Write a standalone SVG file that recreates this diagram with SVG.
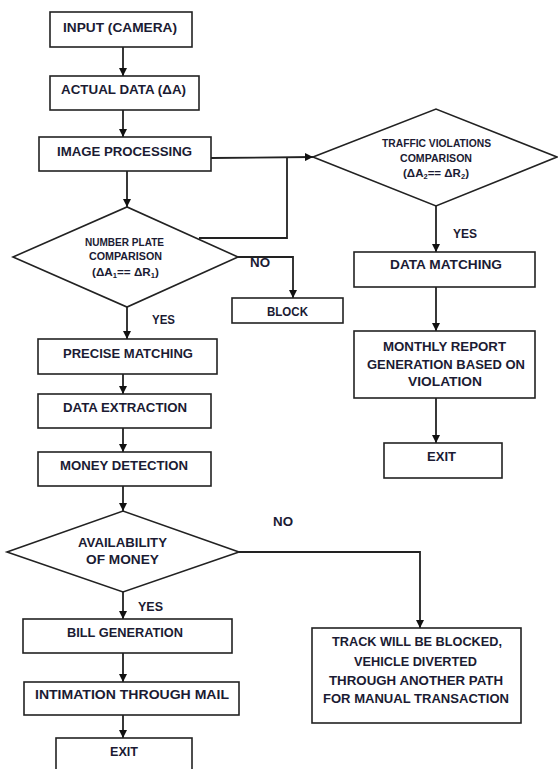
<svg xmlns="http://www.w3.org/2000/svg" width="558" height="769" viewBox="0 0 558 769">
<defs>
<style>
.box{fill:#fff;stroke:#222;stroke-width:1.6}
.t{font-family:"Liberation Sans",Arial,sans-serif;font-weight:bold;font-size:12.5px;fill:#1b1b33;text-anchor:middle}
.s{font-family:"Liberation Sans",Arial,sans-serif;font-weight:bold;font-size:10px;fill:#1b1b33;text-anchor:middle}
.l{font-family:"Liberation Sans",Arial,sans-serif;font-weight:bold;font-size:12.5px;fill:#1b1b33}
.c{fill:none;stroke:#222;stroke-width:1.8}
</style>
<marker id="ah" viewBox="0 0 8 8" refX="8" refY="4" markerWidth="8" markerHeight="8" markerUnits="userSpaceOnUse" orient="auto">
<path d="M0,0 L8,4 L0,8 z" fill="#111"/>
</marker>
</defs>
<rect width="558" height="769" fill="#fff"/>

<g id="connectors">
<path class="c" d="M123,47 V76" marker-end="url(#ah)"/>
<path class="c" d="M123,110 V137" marker-end="url(#ah)"/>
<path class="c" d="M127,171 V207" marker-end="url(#ah)"/>
<path class="c" d="M211,158 L313,157" marker-end="url(#ah)"/>
<path class="c" d="M287,158 V238 H199"/>
<path class="c" d="M238,257 H293 V298" marker-end="url(#ah)"/>
<path class="c" d="M127,307 V339" marker-end="url(#ah)"/>
<path class="c" d="M436,206 V252" marker-end="url(#ah)"/>
<path class="c" d="M436,287 V331" marker-end="url(#ah)"/>
<path class="c" d="M436,398 V443" marker-end="url(#ah)"/>
<path class="c" d="M123,374 V394" marker-end="url(#ah)"/>
<path class="c" d="M123,428 V452" marker-end="url(#ah)"/>
<path class="c" d="M123,486 V511" marker-end="url(#ah)"/>
<path class="c" d="M239,552 H420 V628" marker-end="url(#ah)"/>
<path class="c" d="M123,592 V619" marker-end="url(#ah)"/>
<path class="c" d="M123,653 V682" marker-end="url(#ah)"/>
<path class="c" d="M123,715 V738" marker-end="url(#ah)"/>
<text class="l" x="453" y="238" textLength="24" lengthAdjust="spacingAndGlyphs">YES</text>
<text class="l" x="250" y="267" textLength="20" lengthAdjust="spacingAndGlyphs">NO</text>
<text class="l" x="152" y="324" textLength="23" lengthAdjust="spacingAndGlyphs">YES</text>
<text class="l" x="273" y="526" textLength="20" lengthAdjust="spacingAndGlyphs">NO</text>
<text class="l" x="138" y="611" textLength="25" lengthAdjust="spacingAndGlyphs">YES</text>
</g>

<g id="input">
<rect class="box" x="50" y="12" width="142" height="35"/>
<text class="t" x="120" y="32" textLength="114" lengthAdjust="spacingAndGlyphs">INPUT (CAMERA)</text>
</g>
<g id="actual-data">
<rect class="box" x="50" y="76" width="149" height="34"/>
<text class="t" x="123.5" y="94" textLength="125" lengthAdjust="spacingAndGlyphs">ACTUAL DATA (ΔA)</text>
</g>
<g id="image-processing">
<rect class="box" x="39" y="137" width="172" height="34"/>
<text class="t" x="124.5" y="156" textLength="135" lengthAdjust="spacingAndGlyphs">IMAGE PROCESSING</text>
</g>
<g id="traffic-comparison">
<polygon class="box" points="313,157 436,109 557,157 436,206"/>
<text class="s" x="436.5" y="147" textLength="109" lengthAdjust="spacingAndGlyphs">TRAFFIC VIOLATIONS</text>
<text class="s" x="436" y="162" textLength="72" lengthAdjust="spacingAndGlyphs">COMPARISON</text>
<text class="s" x="436" y="177" textLength="66" lengthAdjust="spacingAndGlyphs">(ΔA<tspan font-size="6.5" dy="1.5">2</tspan><tspan dy="-1.5">== ΔR</tspan><tspan font-size="6.5" dy="1.5">2</tspan><tspan dy="-1.5">)</tspan></text>
</g>
<g id="data-matching">
<rect class="box" x="354" y="252" width="181" height="35"/>
<text class="t" x="446" y="269" textLength="112" lengthAdjust="spacingAndGlyphs">DATA MATCHING</text>
</g>
<g id="monthly-report">
<rect class="box" x="354" y="331" width="181" height="67"/>
<text class="t" x="444.5" y="351" textLength="123" lengthAdjust="spacingAndGlyphs">MONTHLY REPORT</text>
<text class="t" x="446" y="369" textLength="158" lengthAdjust="spacingAndGlyphs">GENERATION BASED ON</text>
<text class="t" x="445" y="386" textLength="74" lengthAdjust="spacingAndGlyphs">VIOLATION</text>
</g>
<g id="exit-right">
<rect class="box" x="384" y="443" width="118" height="35"/>
<text class="t" x="441.5" y="461" textLength="29" lengthAdjust="spacingAndGlyphs">EXIT</text>
</g>
<g id="number-plate-comparison">
<polygon class="box" points="13,257 127,207 238,257 127,307"/>
<text class="s" x="124.5" y="246" textLength="79" lengthAdjust="spacingAndGlyphs">NUMBER PLATE</text>
<text class="s" x="125.5" y="260" textLength="73" lengthAdjust="spacingAndGlyphs">COMPARISON</text>
<text class="s" x="125.5" y="276" textLength="67" lengthAdjust="spacingAndGlyphs">(ΔA<tspan font-size="6.5" dy="1.5">1</tspan><tspan dy="-1.5">== ΔR</tspan><tspan font-size="6.5" dy="1.5">1</tspan><tspan dy="-1.5">)</tspan></text>
</g>
<g id="block">
<rect class="box" x="232" y="298" width="111" height="25"/>
<text class="t" x="287.5" y="316" textLength="41" lengthAdjust="spacingAndGlyphs">BLOCK</text>
</g>
<g id="precise-matching">
<rect class="box" x="38" y="339" width="179" height="35"/>
<text class="t" x="128" y="358" textLength="130" lengthAdjust="spacingAndGlyphs">PRECISE MATCHING</text>
</g>
<g id="data-extraction">
<rect class="box" x="38" y="394" width="173" height="34"/>
<text class="t" x="125" y="412" textLength="124" lengthAdjust="spacingAndGlyphs">DATA EXTRACTION</text>
</g>
<g id="money-detection">
<rect class="box" x="38" y="452" width="173" height="34"/>
<text class="t" x="124" y="470" textLength="128" lengthAdjust="spacingAndGlyphs">MONEY DETECTION</text>
</g>
<g id="availability">
<polygon class="box" points="7,552 123,511 239,552 123,592"/>
<text class="t" x="122.5" y="547" textLength="89" lengthAdjust="spacingAndGlyphs">AVAILABILITY</text>
<text class="t" x="122.5" y="564" textLength="73" lengthAdjust="spacingAndGlyphs">OF MONEY</text>
</g>
<g id="bill-generation">
<rect class="box" x="23" y="619" width="209" height="34"/>
<text class="t" x="125" y="637" textLength="116" lengthAdjust="spacingAndGlyphs">BILL GENERATION</text>
</g>
<g id="intimation">
<rect class="box" x="24" y="682" width="215" height="33"/>
<text class="t" x="132" y="699" textLength="194" lengthAdjust="spacingAndGlyphs">INTIMATION THROUGH MAIL</text>
</g>
<g id="exit-left">
<rect class="box" x="56" y="738" width="136" height="40"/>
<text class="t" x="124" y="756" textLength="28" lengthAdjust="spacingAndGlyphs">EXIT</text>
</g>
<g id="track-blocked">
<rect class="box" x="312" y="628" width="209" height="95"/>
<text class="t" x="417" y="646" textLength="170" lengthAdjust="spacingAndGlyphs">TRACK WILL BE BLOCKED,</text>
<text class="t" x="415.5" y="666" textLength="123" lengthAdjust="spacingAndGlyphs">VEHICLE DIVERTED</text>
<text class="t" x="416" y="685" textLength="174" lengthAdjust="spacingAndGlyphs">THROUGH ANOTHER PATH</text>
<text class="t" x="416" y="703" textLength="186" lengthAdjust="spacingAndGlyphs">FOR MANUAL TRANSACTION</text>
</g>
</svg>
